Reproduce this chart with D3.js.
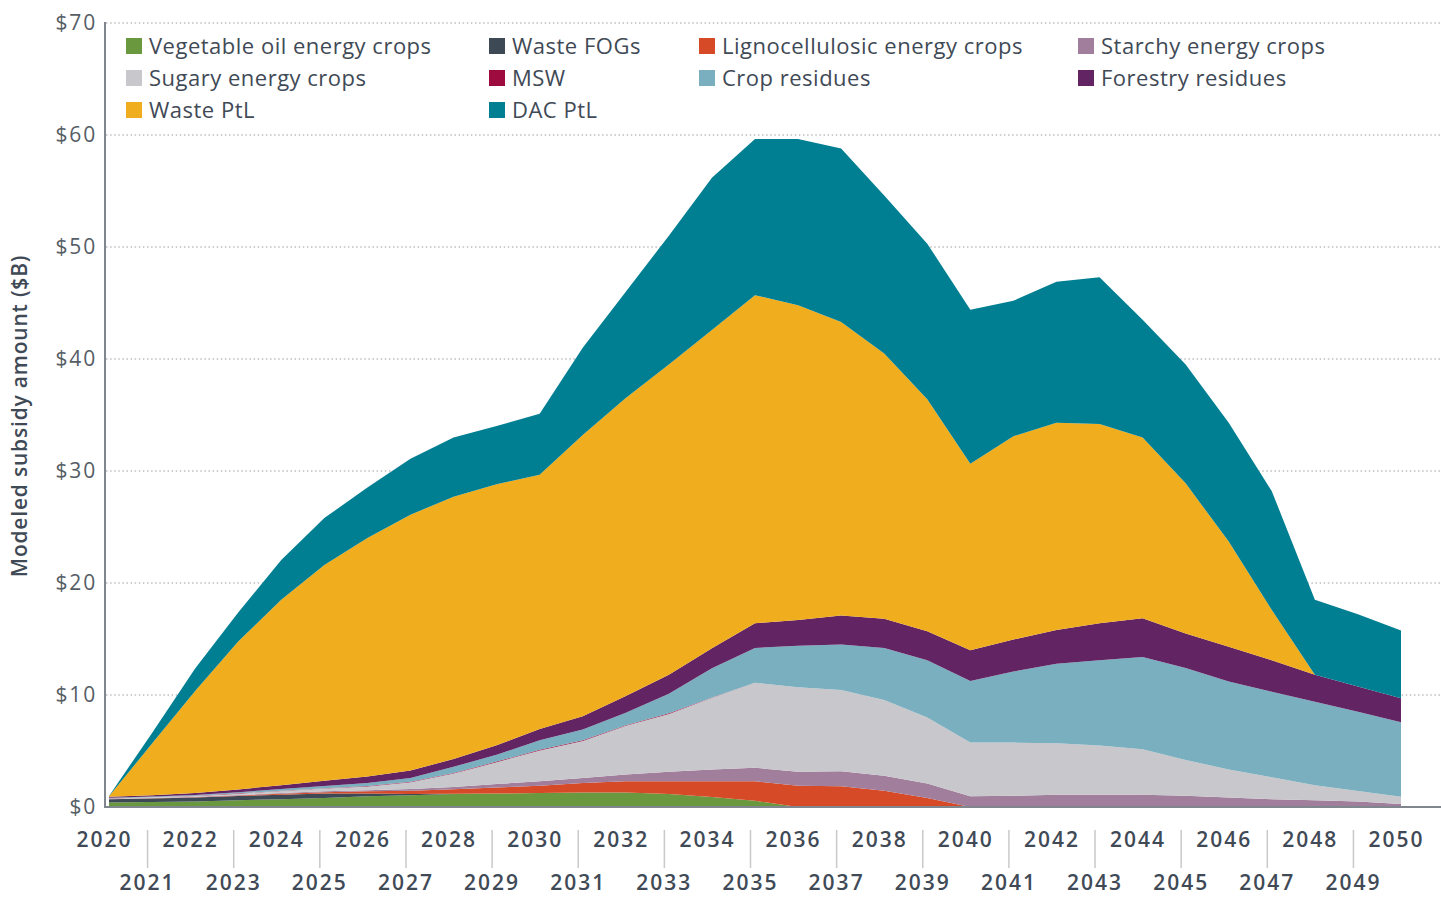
<!DOCTYPE html>
<html><head><meta charset="utf-8">
<script src="https://cdn.jsdelivr.net/npm/d3@7"></script>
<style>
html,body{margin:0;padding:0;background:#fff;}
svg{display:block;}
text{font-family:"Open Sans","Noto Sans",sans-serif;}
</style></head>
<body>
<svg id="chart" width="1441" height="897"></svg>
<script>
// ---- data ----
const years = d3.range(2020, 2051);
const vegOil   = [0.4,0.45,0.5,0.6,0.7,0.8,0.95,1.05,1.15,1.2,1.25,1.3,1.3,1.15,0.9,0.55,0,0,0,0,0,0,0,0,0,0,0,0,0,0,0];
const wasteFOGs= [0.3,0.32,0.35,0.38,0.4,0.4,0.25,0.1,0.03,0,0,0,0,0,0,0,0,0,0,0,0,0,0,0,0,0,0,0,0,0,0];
const ligno    = [0,0.01,0.03,0.05,0.08,0.12,0.2,0.3,0.4,0.55,0.65,0.85,1.0,1.15,1.4,1.75,1.9,1.85,1.45,0.8,0,0,0,0,0,0,0,0,0,0,0];
const starchy  = [0.02,0.02,0.03,0.04,0.06,0.08,0.1,0.15,0.2,0.3,0.4,0.45,0.6,0.85,1.05,1.2,1.25,1.35,1.35,1.3,0.95,1.0,1.1,1.1,1.1,1.0,0.85,0.7,0.6,0.48,0.27];
const sugary   = [0.05,0.06,0.08,0.12,0.18,0.25,0.32,0.6,1.2,1.95,2.75,3.3,4.35,5.15,6.4,7.6,7.55,7.25,6.75,5.9,4.8,4.75,4.6,4.4,4.05,3.2,2.5,1.95,1.35,0.95,0.65];
const msw      = [0.01,0.02,0.02,0.03,0.03,0.03,0.05,0.05,0.06,0.06,0.06,0.06,0.06,0.06,0.03,0,0,0,0,0,0,0,0,0,0,0,0,0,0,0,0];
const cropRes  = [0.04,0.05,0.07,0.1,0.15,0.2,0.28,0.35,0.55,0.6,0.85,0.95,1.1,1.75,2.6,3.1,3.7,4.05,4.65,5.1,5.5,6.35,7.1,7.6,8.25,8.2,7.85,7.65,7.45,7.07,6.64];
const forestry = [0.1,0.13,0.18,0.25,0.35,0.47,0.57,0.65,0.7,0.85,1.0,1.2,1.5,1.7,1.8,2.2,2.3,2.6,2.6,2.6,2.75,2.85,3.0,3.3,3.45,3.1,3.1,2.8,2.4,2.25,2.15];
const wastePtL = [0.05,4.6,9.1,13.2,16.55,19.25,21.3,22.85,23.4,23.3,22.7,25.1,26.6,27.7,28.4,29.3,28.1,26.2,23.7,20.7,16.65,18.15,18.5,17.8,16.15,13.4,9.4,4.5,0,0,0];
const dacPtL   = [0.02,0.95,2.0,2.6,3.55,4.2,4.5,5.0,5.3,5.2,5.45,7.8,9.5,11.5,13.6,13.95,14.85,15.5,14.1,13.9,13.75,12.1,12.6,13.1,10.5,10.6,10.6,10.6,6.7,6.45,6.05];

const seriesNames = ["Vegetable oil energy crops","Waste FOGs","Lignocellulosic energy crops","Starchy energy crops",
  "Sugary energy crops","MSW","Crop residues","Forestry residues","Waste PtL","DAC PtL"];
const seriesValues = [vegOil,wasteFOGs,ligno,starchy,sugary,msw,cropRes,forestry,wastePtL,dacPtL];
const seriesColors = ["#6a983e","#3d4a55","#d64a28","#a07e9c","#c8c7cb","#9e0b3f","#7aafbf","#632463","#f0ae1e","#007f92"];
const yTicks = [0,10,20,30,40,50,60,70];

// ---- build ----
const table = years.map((yr,i)=>{
  const o = {year: yr};
  seriesNames.forEach((n,k)=>{ o[n] = seriesValues[k][i]; });
  return o;
});

const svg = d3.select("#chart");
const x = d3.scaleLinear().domain([2020,2050]).range([109,1401]);
const y = d3.scaleLinear().domain([0,70]).range([807,23]);
const textCol = "#3f4a56";
const axisCol = "#7f868d";

// gridlines
svg.append("g").selectAll("line").data(yTicks.filter(d=>d>0)).join("line")
  .attr("x1",106).attr("x2",1441)
  .attr("y1",d=>y(d)).attr("y2",d=>y(d))
  .attr("stroke","#bdbdbd").attr("stroke-width",1.5)
  .attr("stroke-dasharray","1.5,2.6");

// stacked areas
const stack = d3.stack().keys(seriesNames);
const layers = stack(table);
const area = d3.area()
  .x(d=>x(d.data.year))
  .y0(d=>y(d[0]))
  .y1(d=>y(d[1]));
svg.append("g").selectAll("path").data(layers).join("path")
  .attr("d",area)
  .attr("fill",(d,i)=>seriesColors[i]);

// y axis
const yAxis = d3.axisLeft(y).tickValues(yTicks).tickFormat(d=>"$"+d).tickSize(0).tickPadding(8);
const gy = svg.append("g").attr("transform","translate(105,0)").call(yAxis);
gy.select(".domain").remove();
gy.selectAll("text").attr("font-size",21).attr("fill","#555d66").attr("font-weight",400)
  .attr("letter-spacing",1.8)
  .style("font-family",'"Open Sans",sans-serif');
svg.append("line").attr("x1",105).attr("x2",105).attr("y1",y(70)-1).attr("y2",y(0)+1)
  .attr("stroke",axisCol).attr("stroke-width",2);
svg.append("line").attr("x1",104).attr("x2",1441).attr("y1",y(0)).attr("y2",y(0))
  .attr("stroke",axisCol).attr("stroke-width",2);

// x axis labels
const gx = svg.append("g");
gx.selectAll("text").data(years).join("text")
  .attr("x",d=>x(d)-4.5)
  .attr("y",d=>(d%2===0)?847:890)
  .attr("text-anchor","middle")
  .attr("font-size",21).attr("font-weight",600)
  .attr("letter-spacing",2)
  .attr("fill",textCol)
  .text(d=>d);
gx.selectAll("line").data(years.filter(d=>d%2===1)).join("line")
  .attr("x1",d=>x(d)-4.5).attr("x2",d=>x(d)-4.5)
  .attr("y1",830).attr("y2",868)
  .attr("stroke","#c9c9c9").attr("stroke-width",1.5);

// y title
svg.append("text")
  .attr("transform","translate(27,416) rotate(-90)")
  .attr("text-anchor","middle")
  .attr("font-size",21).attr("font-weight",600)
  .attr("letter-spacing",0.8)
  .attr("fill",textCol)
  .text("Modeled subsidy amount ($B)");

// legend
const colX = [126,489,699,1078];
const rowY = [46,78,110];
const leg = svg.append("g").selectAll("g").data(seriesNames).join("g")
  .attr("transform",(d,i)=>`translate(${colX[i%4]},${rowY[Math.floor(i/4)]})`);
leg.append("rect").attr("x",0).attr("y",-8).attr("width",16).attr("height",16)
  .attr("fill",(d,i)=>seriesColors[i]);
leg.append("text").attr("x",23).attr("y",7.5)
  .attr("font-size",22).attr("font-weight",400).attr("fill",textCol)
  .attr("letter-spacing",0.5)
  .text(d=>d);
</script>
</body></html>
